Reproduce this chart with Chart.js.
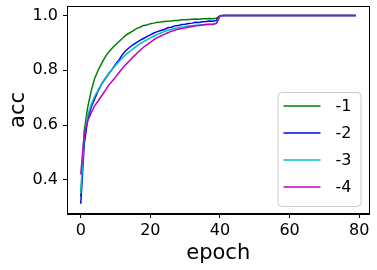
<!DOCTYPE html>
<html>
<head>
<meta charset="utf-8">
<script src="https://cdn.jsdelivr.net/npm/chart.js@4"></script>
<style>
  html, body { margin: 0; padding: 0; background: #fff; }
  #wrap { width: 377px; height: 270px; }
</style>
</head>
<body>
<div id="wrap"><canvas id="c" width="377" height="270"></canvas></div>
<script>
const epochs = [];
for (let i = 0; i < 80; i++) epochs.push(i);

const seriesNames = ["-1", "-2", "-3", "-4"];
const seriesColors = ["#008000", "#0000ff", "#00bfbf", "#bf00bf"];

const acc1 = [0.34, 0.58, 0.665, 0.725, 0.77, 0.80, 0.825, 0.848, 0.866, 0.880,
  0.893, 0.905, 0.917, 0.928, 0.936, 0.944, 0.952, 0.957, 0.963, 0.965,
  0.970, 0.972, 0.975, 0.976, 0.978, 0.979, 0.980, 0.982, 0.982, 0.984,
  0.984, 0.985, 0.986, 0.987, 0.986, 0.988, 0.988, 0.989, 0.988, 0.990,
  0.999, 1.0, 1.0, 1.0, 1.0, 1.0, 1.0, 1.0, 1.0, 1.0,
  1.0, 1.0, 1.0, 1.0, 1.0, 1.0, 1.0, 1.0, 1.0, 1.0,
  1.0, 1.0, 1.0, 1.0, 1.0, 1.0, 1.0, 1.0, 1.0, 1.0,
  1.0, 1.0, 1.0, 1.0, 1.0, 1.0, 1.0, 1.0, 1.0, 1.0];

const acc2 = [0.313, 0.53, 0.62, 0.665, 0.695, 0.725, 0.75, 0.768, 0.786, 0.803,
  0.822, 0.838, 0.858, 0.872, 0.883, 0.893, 0.901, 0.909, 0.916, 0.923,
  0.929, 0.936, 0.941, 0.945, 0.949, 0.955, 0.957, 0.962, 0.963, 0.967,
  0.968, 0.971, 0.972, 0.975, 0.974, 0.977, 0.978, 0.980, 0.979, 0.982,
  0.999, 1.0, 1.0, 1.0, 1.0, 1.0, 1.0, 1.0, 1.0, 1.0,
  1.0, 1.0, 1.0, 1.0, 1.0, 1.0, 1.0, 1.0, 1.0, 1.0,
  1.0, 1.0, 1.0, 1.0, 1.0, 1.0, 1.0, 1.0, 1.0, 1.0,
  1.0, 1.0, 1.0, 1.0, 1.0, 1.0, 1.0, 1.0, 1.0, 1.0];

const acc3 = [0.35, 0.56, 0.635, 0.675, 0.705, 0.728, 0.75, 0.77, 0.788, 0.803,
  0.818, 0.832, 0.846, 0.858, 0.868, 0.878, 0.887, 0.896, 0.904, 0.911,
  0.918, 0.925, 0.931, 0.936, 0.941, 0.946, 0.949, 0.953, 0.955, 0.958,
  0.959, 0.962, 0.962, 0.964, 0.965, 0.966, 0.967, 0.968, 0.965, 0.972,
  0.998, 1.0, 1.0, 1.0, 1.0, 1.0, 1.0, 1.0, 1.0, 1.0,
  1.0, 1.0, 1.0, 1.0, 1.0, 1.0, 1.0, 1.0, 1.0, 1.0,
  1.0, 1.0, 1.0, 1.0, 1.0, 1.0, 1.0, 1.0, 1.0, 1.0,
  1.0, 1.0, 1.0, 1.0, 1.0, 1.0, 1.0, 1.0, 1.0, 1.0];

const acc4 = [0.42, 0.565, 0.615, 0.645, 0.67, 0.688, 0.707, 0.726, 0.745, 0.76,
  0.775, 0.792, 0.807, 0.822, 0.835, 0.848, 0.86, 0.872, 0.884, 0.893,
  0.902, 0.912, 0.919, 0.925, 0.931, 0.937, 0.942, 0.946, 0.95, 0.952,
  0.955, 0.957, 0.96, 0.962, 0.963, 0.965, 0.967, 0.968, 0.969, 0.971,
  0.998, 1.0, 1.0, 1.0, 1.0, 1.0, 1.0, 1.0, 1.0, 1.0,
  1.0, 1.0, 1.0, 1.0, 1.0, 1.0, 1.0, 1.0, 1.0, 1.0,
  1.0, 1.0, 1.0, 1.0, 1.0, 1.0, 1.0, 1.0, 1.0, 1.0,
  1.0, 1.0, 1.0, 1.0, 1.0, 1.0, 1.0, 1.0, 1.0, 1.0];

const xTicks = [0, 20, 40, 60, 80];
const yTicks = [0.4, 0.6, 0.8, 1.0];

const allSeries = [acc1, acc2, acc3, acc4];
const FONT = "'DejaVu Sans', sans-serif";

const datasets = allSeries.map((vals, k) => ({
  label: seriesNames[k],
  data: vals.map((v, i) => ({ x: epochs[i], y: v })),
  borderColor: seriesColors[k],
  backgroundColor: seriesColors[k],
  borderWidth: 1.5,
  pointRadius: 0,
  tension: 0,
  fill: false,
  order: allSeries.length - 1 - k
}));

const framePlugin = {
  id: 'frame',
  afterDatasetsDraw(chart) {
    const { ctx, chartArea: a } = chart;
    ctx.save();
    ctx.strokeStyle = '#000';
    ctx.lineWidth = 1;
    ctx.strokeRect(Math.round(a.left) + 0.5, Math.round(a.top) + 0.5,
      Math.round(a.right - a.left) - 1, Math.round(a.bottom - a.top) - 1);
    ctx.restore();
  }
};

const legendPlugin = {
  id: 'mplLegend',
  afterDraw(chart) {
    const { ctx, chartArea: a } = chart;
    const w = 83, h = 114;
    const right = a.right - 9, bottom = a.bottom - 8;
    const left = right - w, top = bottom - h;
    ctx.save();
    ctx.beginPath();
    ctx.roundRect(left + 0.5, top + 0.5, w, h, 4);
    ctx.fillStyle = 'rgba(255,255,255,0.8)';
    ctx.fill();
    ctx.strokeStyle = '#cccccc';
    ctx.lineWidth = 1;
    ctx.stroke();
    ctx.font = '16px ' + FONT;
    ctx.textBaseline = 'middle';
    ctx.textAlign = 'left';
    chart.data.datasets.forEach((ds, i) => {
      const y = top + 14 + i * 27;
      ctx.beginPath();
      ctx.moveTo(left + 6, y);
      ctx.lineTo(left + 43, y);
      ctx.strokeStyle = ds.borderColor;
      ctx.lineWidth = 1.5;
      ctx.stroke();
      ctx.fillStyle = '#000';
      ctx.fillText(ds.label, left + 58, y + 1);
    });
    ctx.restore();
  }
};

new Chart(document.getElementById('c'), {
  type: 'line',
  data: { datasets },
  options: {
    responsive: false,
    animation: false,
    events: [],
    layout: { padding: { top: 6, right: 7.5, left: 0, bottom: 0 } },
    plugins: { legend: { display: false }, tooltip: { enabled: false } },
    scales: {
      x: {
        type: 'linear',
        min: -3.95,
        max: 82.95,
        afterBuildTicks(scale) { scale.ticks = xTicks.map(v => ({ value: v })); },
        afterFit(scale) { scale.height = 56; scale.paddingLeft = 0; scale.paddingRight = 0; },
        ticks: {
          color: '#000',
          font: { family: FONT, size: 16 },
          padding: 3,
          maxRotation: 0,
          autoSkip: false
        },
        grid: { drawOnChartArea: false, drawTicks: true, tickLength: 4, color: '#000' },
        border: { display: true, color: '#000', width: 1 },
        title: {
          display: true,
          text: 'epoch',
          color: '#000',
          font: { family: FONT, size: 21 },
          padding: { top: 0, bottom: 4 }
        }
      },
      y: {
        type: 'linear',
        min: 0.2755,
        max: 1.0345,
        afterBuildTicks(scale) { scale.ticks = yTicks.map(v => ({ value: v })); },
        afterFit(scale) { scale.width = 67; scale.paddingTop = 0; scale.paddingBottom = 0; },
        ticks: {
          color: '#000',
          font: { family: FONT, size: 16 },
          padding: 5,
          callback: v => v.toFixed(1)
        },
        grid: { drawOnChartArea: false, drawTicks: true, tickLength: 4, color: '#000' },
        border: { display: true, color: '#000', width: 1 },
        title: {
          display: true,
          text: 'acc',
          color: '#000',
          font: { family: FONT, size: 21 },
          padding: { top: 6, bottom: 0 }
        }
      }
    }
  },
  plugins: [framePlugin, legendPlugin]
});
</script>
</body>
</html>
